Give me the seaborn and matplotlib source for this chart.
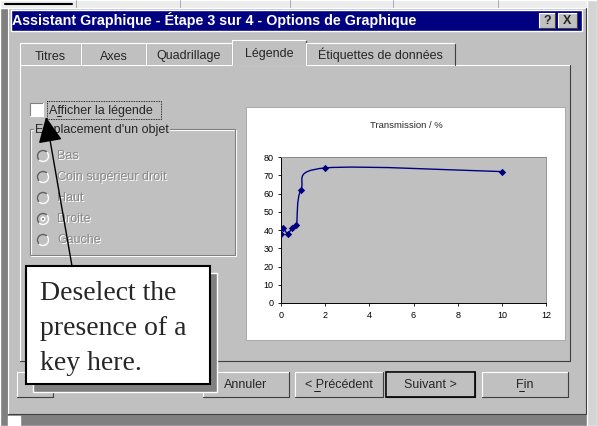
import matplotlib
matplotlib.use("Agg")
import matplotlib.pyplot as plt
import seaborn as sns
import pandas as pd
from matplotlib.patches import Rectangle, Circle, Arc, PathPatch
from matplotlib.path import Path

# chart data
thickness = [0, 0.1, 0.3, 0.5, 0.7, 0.9, 2, 10]
transmission = [38, 41, 38, 41, 43, 62, 74, 72]
x_ticks = [0, 2, 4, 6, 8, 10, 12]
y_ticks = [0, 10, 20, 30, 40, 50, 60, 70, 80]
chart_title = "Transmission / %"

# dialog texts
dialog_title = "Assistant Graphique - Étape 3 sur 4 - Options de Graphique"
tab_labels = ["Titres", "Axes", "Quadrillage", "Légende", "Étiquettes de données"]
radio_labels = ["Bas", "Coin supérieur droit", "Haut", "Droite", "Gauche"]
button_labels = ["Annuler", "< Précédent", "Suivant >", "Fin"]
callout_lines = ["Deselect the", "presence of a", "key here."]

W, H = 597, 426
FACE = "#c0c0c0"
NAVY = "#000080"
UI_FONT = "Liberation Sans"
UI_SIZE = 9


def bevel(ax, x0, y0, x1, y1, raised=True, face=FACE, lw=0.8, z=2):
    """Windows 95 style box: light top/left edge, dark bottom/right edge."""
    if face is not None:
        ax.add_patch(Rectangle((x0, y0), x1 - x0, y1 - y0, facecolor=face,
                               edgecolor="none", zorder=z))
    light, dark = ("white", "#404040") if raised else ("#808080", "white")
    ax.plot([x0, x0, x1], [y1, y0, y0], color=light, lw=lw, zorder=z + 0.5)
    ax.plot([x0, x1, x1], [y1, y1, y0], color=dark, lw=lw, zorder=z + 0.5)


def smooth_path(xs, ys):
    """Excel-like smoothed line: cubic bezier segments through the points."""
    pts = list(zip(xs, ys))
    verts = [pts[0]]
    codes = [Path.MOVETO]
    for i in range(len(pts) - 1):
        p0 = pts[max(i - 1, 0)]
        p1 = pts[i]
        p2 = pts[i + 1]
        p3 = pts[min(i + 2, len(pts) - 1)]
        c1 = (p1[0] + (p2[0] - p0[0]) / 6, p1[1] + (p2[1] - p0[1]) / 6)
        c2 = (p2[0] - (p3[0] - p1[0]) / 6, p2[1] - (p3[1] - p1[1]) / 6)
        verts += [c1, c2, p2]
        codes += [Path.CURVE4] * 3
    return Path(verts, codes)


def draw_dialog(ax):
    # screen behind the dialog
    ax.add_patch(Rectangle((0, 0), W, H, facecolor="#808080", zorder=0))
    ax.add_patch(Rectangle((0, 0), W, 8, facecolor="#ececec", zorder=0.5))
    ax.add_patch(Rectangle((587, 0), 10, H, facecolor="#d4d4d4", zorder=0.5))
    for gx in [76, 180, 290, 393, 498]:
        ax.plot([gx, gx], [0, 8], color="#a0a0a0", lw=0.6, zorder=0.6)
    ax.plot([5, 72], [4, 4], color="black", lw=1.5, zorder=0.6)
    ax.add_patch(Rectangle((8, 416), 12, 10, facecolor="white", zorder=0.5))

    # dialog frame and title bar
    bevel(ax, 8, 8, 586, 414)
    ax.add_patch(Rectangle((11, 10), 571, 21, facecolor=NAVY, zorder=3))
    ax.text(12, 20.5, dialog_title, color="white", fontsize=10.3,
            fontweight="bold", va="center", family=UI_FONT, zorder=4)
    bevel(ax, 539, 13, 555, 28, z=4)
    ax.text(547, 20.5, "?", fontsize=9, fontweight="bold", ha="center",
            va="center", family=UI_FONT, zorder=6)
    bevel(ax, 558, 13, 577, 28, z=4)
    ax.text(567.5, 20.5, "X", fontsize=9, fontweight="bold", ha="center",
            va="center", family=UI_FONT, zorder=6)

    # tab panel and tabs
    bevel(ax, 20, 65, 570, 361)
    tab_edges = [(20, 81), (81, 146), (146, 232), (232, 306), (306, 455)]
    for label, (x0, x1) in zip(tab_labels, tab_edges):
        selected = label == "Légende"
        top = 40 if selected else 43
        ax.add_patch(Rectangle((x0, top), x1 - x0, 65 - top + (1 if selected else 0),
                               facecolor=FACE, edgecolor="none", zorder=4))
        ax.plot([x0, x0, x1 - 1], [65, top, top], color="white", lw=0.8, zorder=5)
        ax.plot([x1, x1], [top + 1, 65], color="#404040", lw=0.8, zorder=5)
        ax.text((x0 + x1) / 2, 57 if selected else 59.5, label, fontsize=UI_SIZE,
                ha="center", va="baseline", family=UI_FONT, zorder=6)

    # legend checkbox
    bevel(ax, 30, 103, 43, 116, raised=False, face="white")
    ax.text(49, 114, "Afficher la légende", fontsize=UI_SIZE, va="baseline",
            family=UI_FONT, zorder=6)
    ax.plot([57, 60.5], [115.5, 115.5], color="black", lw=0.6, zorder=6)
    ax.add_patch(Rectangle((47, 101), 114, 18, facecolor="none", edgecolor="black",
                           lw=0.6, ls=(0, (1, 1)), zorder=6))

    # placement group box (disabled)
    ax.add_patch(Rectangle((30, 129), 205, 126, facecolor="none",
                           edgecolor="#808080", lw=0.8, zorder=3))
    ax.add_patch(Rectangle((31, 130), 205, 126, facecolor="none",
                           edgecolor="white", lw=0.8, zorder=2.9))
    ax.text(35, 133, "Emplacement d'un objet", fontsize=UI_SIZE, va="baseline",
            family=UI_FONT, zorder=6,
            bbox=dict(facecolor=FACE, edgecolor="none", pad=0.5))
    for i, label in enumerate(radio_labels):
        cy = 156 + i * 21
        ax.add_patch(Circle((43, cy), 5.5, facecolor=FACE, edgecolor="none", zorder=5))
        # y axis is inverted here, so 135..315 is the lower right half on screen
        ax.add_patch(Arc((43, cy), 11, 11, theta1=135, theta2=315, color="#606060",
                         lw=1.0, zorder=5.5))
        ax.add_patch(Arc((43, cy), 11, 11, theta1=315, theta2=135, color="white",
                         lw=1.0, zorder=5.5))
        if label == "Droite":
            ax.add_patch(Circle((43, cy), 1.8, facecolor="#808080", zorder=6))
        ax.text(58, cy + 1, label, fontsize=UI_SIZE, color="white", va="center",
                family=UI_FONT, zorder=5)
        ax.text(57, cy, label, fontsize=UI_SIZE, color="#8a8a8a", va="center",
                family=UI_FONT, zorder=6)

    # chart preview area
    ax.add_patch(Rectangle((246, 107), 319, 233, facecolor="white",
                           edgecolor="#a0a0a0", lw=0.6, zorder=3))
    ax.text(406, 125, chart_title, fontsize=6.8, ha="center", va="center",
            family=UI_FONT, zorder=6)

    # buttons
    bevel(ax, 17, 372, 53, 397)
    button_edges = [(203, 289), (295, 383), (386, 475), (482, 568)]
    for label, (x0, x1) in zip(button_labels, button_edges):
        bevel(ax, x0, 372, x1, 397)
        if label == "Suivant >":
            ax.add_patch(Rectangle((x0, 372), x1 - x0, 25, facecolor="none",
                                   edgecolor="black", lw=1.2, zorder=4))
        ax.text((x0 + x1) / 2, 385, label, fontsize=UI_SIZE, ha="center", va="center",
                family=UI_FONT, zorder=6)
    ax.plot([314, 320], [391, 391], color="black", lw=0.6, zorder=6)
    ax.plot([519, 524], [391, 391], color="black", lw=0.6, zorder=6)

    # callout box with arrow
    ax.add_patch(Rectangle((33, 273), 184, 119, facecolor="#808080", zorder=7))
    ax.add_patch(Rectangle((26, 266), 184, 118, facecolor="white",
                           edgecolor="black", lw=1.5, zorder=8))
    for i, line in enumerate(callout_lines):
        ax.text(40, 300 + i * 35, line, fontsize=20, va="baseline",
                family="Liberation Serif", zorder=9)
    ax.annotate("", xy=(46, 117), xytext=(72, 266),
                arrowprops=dict(arrowstyle="-|>,head_length=1.6,head_width=0.75",
                                color="black", lw=1.0, mutation_scale=10,
                                shrinkA=0, shrinkB=0),
                zorder=10)


def draw_chart(fig):
    # plot area of the preview: x 281..546 px, y 157..303 px
    left, right, top, bottom = 281, 546, 157, 303
    cax = fig.add_axes([left / W, 1 - bottom / H, (right - left) / W, (bottom - top) / H])
    cax.set_facecolor(FACE)
    df = pd.DataFrame({"thickness": thickness, "transmission": transmission})
    cax.add_patch(PathPatch(smooth_path(thickness, transmission), facecolor="none",
                            edgecolor=NAVY, lw=1.0, zorder=3))
    sns.scatterplot(data=df, x="thickness", y="transmission", marker="D", s=14,
                    color=NAVY, edgecolor=NAVY, linewidth=0, ax=cax, zorder=4)
    cax.set_xlim(0, 12)
    cax.set_ylim(0, 80)
    cax.set_xticks(x_ticks)
    cax.set_yticks(y_ticks)
    cax.set_xlabel("")
    cax.set_ylabel("")
    cax.tick_params(direction="out", length=2.5, width=0.6, labelsize=6.5, pad=3,
                    colors="black", bottom=True, left=True)
    for side in ["left", "bottom"]:
        cax.spines[side].set_color("black")
        cax.spines[side].set_linewidth(0.7)
    for side in ["top", "right"]:
        cax.spines[side].set_color("#808080")
        cax.spines[side].set_linewidth(0.6)
    for lbl in cax.get_xticklabels() + cax.get_yticklabels():
        lbl.set_family(UI_FONT)
    return cax


def generate_figure():
    sns.set_theme(style="white")
    plt.rcParams["font.family"] = [UI_FONT, "DejaVu Sans"]
    fig = plt.figure(figsize=(W / 100, H / 100), dpi=100)
    ax = fig.add_axes([0, 0, 1, 1])
    ax.set_xlim(0, W)
    ax.set_ylim(H, 0)
    ax.axis("off")
    draw_dialog(ax)
    draw_chart(fig)
    fig.savefig("out.png", dpi=100)


if __name__ == "__main__":
    generate_figure()
